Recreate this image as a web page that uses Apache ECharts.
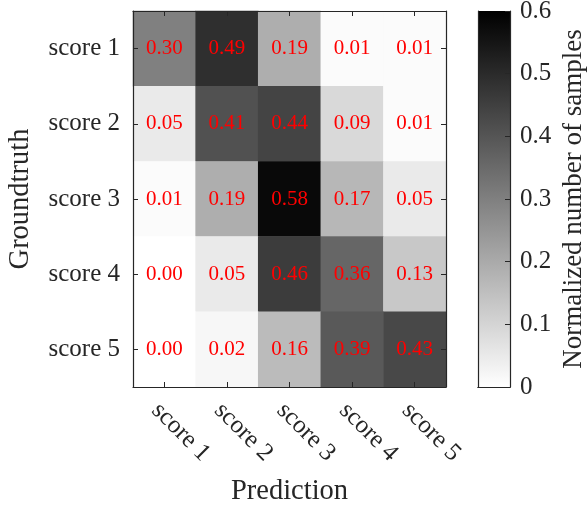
<!DOCTYPE html>
<html><head><meta charset="utf-8">
<script src="https://cdn.jsdelivr.net/npm/echarts@6/dist/echarts.min.js"></script>
<style>html,body{margin:0;padding:0;background:#fff}#c{width:588px;height:507px}</style>
</head><body><div id="c"></div>
<script>
const predCats = ['score 1','score 2','score 3','score 4','score 5'];
const truthCats = ['score 1','score 2','score 3','score 4','score 5'];
const row1 = [0.30, 0.49, 0.19, 0.01, 0.01];
const row2 = [0.05, 0.41, 0.44, 0.09, 0.01];
const row3 = [0.01, 0.19, 0.58, 0.17, 0.05];
const row4 = [0.00, 0.05, 0.46, 0.36, 0.13];
const row5 = [0.00, 0.02, 0.16, 0.39, 0.43];
const rows = [row1, row2, row3, row4, row5];
const cbMin = 0, cbMax = 0.6, cbStep = 0.1;

const data = [];
rows.forEach((r, yi) => r.forEach((v, xi) => data.push([xi, yi, v])));

const FONT = 'Liberation Serif';
const AX = '#262626';
const chart = echarts.init(document.getElementById('c'), null, {renderer: 'canvas'});
const tickStyle = {show: true, inside: true, length: 5, alignWithLabel: true, lineStyle: {color: AX, width: 1}};
const lineStyle = {show: true, lineStyle: {color: AX, width: 1.2}};
chart.setOption({
  animation: false,
  grid: [
    {left: 133, top: 11, width: 313, height: 376, containLabel: false, outerBoundsMode: 'none'},
    {left: 478, top: 11, width: 32, height: 376, containLabel: false, outerBoundsMode: 'none'}
  ],
  visualMap: {show: false, min: cbMin, max: cbMax, seriesIndex: 0, inRange: {color: ['#ffffff', '#000000']}},
  xAxis: [
    {type: 'category', gridIndex: 0, data: predCats, position: 'bottom', z: 10,
     name: 'Prediction', nameLocation: 'middle', nameGap: 90, nameMoveOverlap: false,
     nameTextStyle: {fontFamily: FONT, fontSize: 28.5, color: AX},
     axisLine: lineStyle, axisTick: tickStyle,
     axisLabel: {rotate: -45, margin: 11, align: 'left', verticalAlign: 'top',
       fontFamily: FONT, fontSize: 25, color: AX}},
    {type: 'category', gridIndex: 0, data: predCats, position: 'top', z: 10,
     axisLine: lineStyle, axisTick: tickStyle, axisLabel: {show: false}},
    {type: 'category', gridIndex: 1, data: ['cb'], z: 10,
     axisLine: lineStyle, axisTick: {show: false}, axisLabel: {show: false}},
    {type: 'category', gridIndex: 1, data: ['cb'], position: 'top', z: 10,
     axisLine: lineStyle, axisTick: {show: false}, axisLabel: {show: false}}
  ],
  yAxis: [
    {type: 'category', gridIndex: 0, data: truthCats, inverse: true, position: 'left', z: 10,
     name: 'Groundtruth', nameLocation: 'middle', nameGap: 98, nameRotate: 90, nameMoveOverlap: false,
     nameTextStyle: {fontFamily: FONT, fontSize: 28.5, color: AX},
     axisLine: lineStyle, axisTick: tickStyle,
     axisLabel: {margin: 13, fontFamily: FONT, fontSize: 25, color: AX}},
    {type: 'category', gridIndex: 0, data: truthCats, inverse: true, position: 'right', z: 10,
     axisLine: lineStyle, axisTick: tickStyle, axisLabel: {show: false}},
    {type: 'value', gridIndex: 1, min: cbMin, max: cbMax, interval: cbStep, position: 'right', z: 10,
     name: 'Normalized number of samples', nameLocation: 'middle', nameGap: 50, nameRotate: 90,
     nameMoveOverlap: false,
     nameTextStyle: {fontFamily: FONT, fontSize: 27, color: AX},
     splitLine: {show: false},
     axisLine: lineStyle, axisTick: {show: true, inside: true, length: 5, lineStyle: {color: AX}},
     axisLabel: {margin: 10, fontFamily: FONT, fontSize: 25, color: AX,
       formatter: v => v === 0 ? '0' : (+v).toFixed(1)}},
    {type: 'value', gridIndex: 1, min: cbMin, max: cbMax, position: 'left', z: 10,
     splitLine: {show: false}, axisLine: lineStyle, axisTick: {show: false}, axisLabel: {show: false}}
  ],
  series: [
    {type: 'heatmap', xAxisIndex: 0, yAxisIndex: 0, data: data,
     label: {show: true, color: '#ff0000', fontFamily: FONT, fontSize: 21,
       formatter: p => p.value[2].toFixed(2)},
     itemStyle: {borderWidth: 0}, emphasis: {disabled: true}},
    {type: 'bar', xAxisIndex: 2, yAxisIndex: 2, data: [cbMax], barWidth: '100%',
     itemStyle: {color: new echarts.graphic.LinearGradient(0, 1, 0, 0, [
       {offset: 0, color: '#ffffff'}, {offset: 1, color: '#000000'}])},
     emphasis: {disabled: true}}
  ]
});
</script>
</body></html>
